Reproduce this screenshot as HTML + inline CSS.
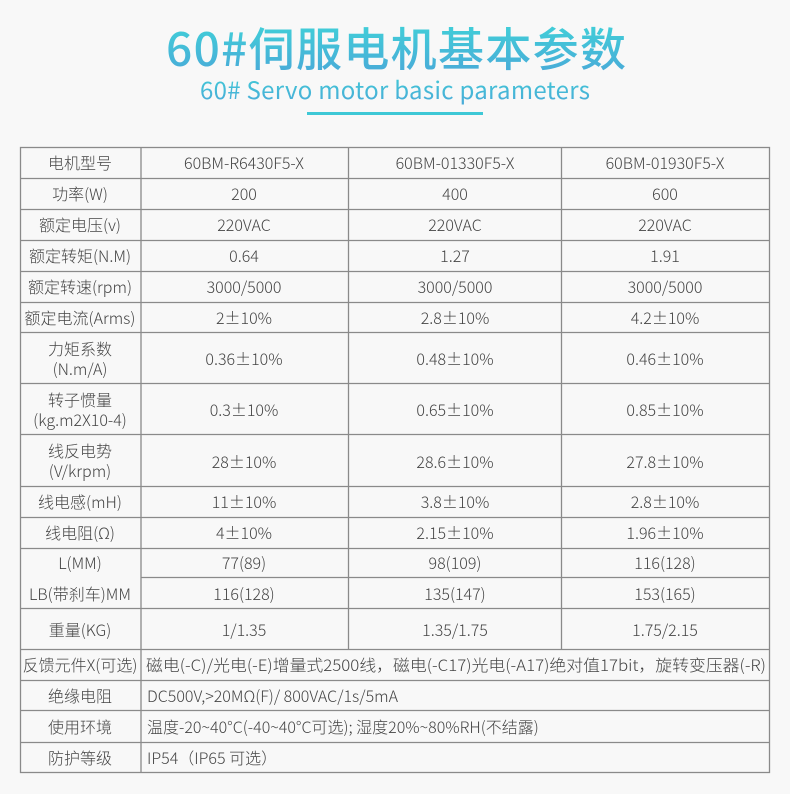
<!DOCTYPE html>
<html><head><meta charset="utf-8"><style>
html,body{margin:0;padding:0;background:#f8f8f8;}
svg{display:block;}
.t{font-family:"Noto Sans CJK SC","Liberation Sans",sans-serif;font-size:16px;fill:#444;font-weight:300;}
</style></head><body>
<svg width="790" height="794" viewBox="0 0 790 794" xmlns="http://www.w3.org/2000/svg">
<defs>
<linearGradient id="g" x1="0" y1="0" x2="0" y2="1">
<stop offset="0" stop-color="#3fd6d8"/><stop offset="1" stop-color="#4aa6d8"/>
</linearGradient>
<linearGradient id="g2" x1="0" y1="0" x2="0" y2="1">
<stop offset="0" stop-color="#40cfd6"/><stop offset="1" stop-color="#4aa8d8"/>
</linearGradient>
</defs>
<rect width="790" height="794" fill="#f8f8f8"/>
<text x="396" y="66" text-anchor="middle" style="font-family:'Noto Sans CJK SC',sans-serif;font-size:46px;font-weight:500" fill="url(#g)" textLength="460">60#伺服电机基本参数</text>
<text x="395" y="99" text-anchor="middle" style="font-family:'Noto Sans CJK SC',sans-serif;font-size:24px" fill="url(#g2)" textLength="390">60# Servo motor basic parameters</text>
<rect x="307" y="112" width="176" height="3" fill="#3ec8d6"/>
<g stroke="#8a8a8a" stroke-width="1.3" fill="none">
<rect x="20.5" y="147.5" width="749" height="625"/>
<line x1="141" y1="147" x2="141" y2="772"/>
<line x1="348.5" y1="147" x2="348.5" y2="649"/>
<line x1="561.5" y1="147" x2="561.5" y2="649"/>
<line x1="20" y1="178.5" x2="770" y2="178.5"/>
<line x1="20" y1="209.5" x2="770" y2="209.5"/>
<line x1="20" y1="240.5" x2="770" y2="240.5"/>
<line x1="20" y1="271.5" x2="770" y2="271.5"/>
<line x1="20" y1="302.5" x2="770" y2="302.5"/>
<line x1="20" y1="332.5" x2="770" y2="332.5"/>
<line x1="20" y1="383.5" x2="770" y2="383.5"/>
<line x1="20" y1="434.5" x2="770" y2="434.5"/>
<line x1="20" y1="486.5" x2="770" y2="486.5"/>
<line x1="20" y1="517.5" x2="770" y2="517.5"/>
<line x1="20" y1="548.5" x2="770" y2="548.5"/>
<line x1="141" y1="577.5" x2="770" y2="577.5"/>
<line x1="20" y1="608.5" x2="770" y2="608.5"/>
<line x1="20" y1="649.5" x2="770" y2="649.5"/>
<line x1="20" y1="680.5" x2="770" y2="680.5"/>
<line x1="20" y1="710.5" x2="770" y2="710.5"/>
<line x1="20" y1="742.5" x2="770" y2="742.5"/>
</g>
<g text-anchor="middle">
<text class="t" x="80" y="169">电机型号</text><text class="t" x="244" y="169">60BM-R6430F5-X</text><text class="t" x="455" y="169">60BM-01330F5-X</text><text class="t" x="665" y="169">60BM-01930F5-X</text>
<text class="t" x="80" y="200">功率(W)</text><text class="t" x="244" y="200">200</text><text class="t" x="455" y="200">400</text><text class="t" x="665" y="200">600</text>
<text class="t" x="80" y="231">额定电压(v)</text><text class="t" x="244" y="231">220VAC</text><text class="t" x="455" y="231">220VAC</text><text class="t" x="665" y="231">220VAC</text>
<text class="t" x="80" y="262">额定转矩(N.M)</text><text class="t" x="244" y="262">0.64</text><text class="t" x="455" y="262">1.27</text><text class="t" x="665" y="262">1.91</text>
<text class="t" x="80" y="293">额定转速(rpm)</text><text class="t" x="244" y="293">3000/5000</text><text class="t" x="455" y="293">3000/5000</text><text class="t" x="665" y="293">3000/5000</text>
<text class="t" x="80" y="324">额定电流(Arms)</text><text class="t" x="244" y="324">2±10%</text><text class="t" x="455" y="324">2.8±10%</text><text class="t" x="665" y="324">4.2±10%</text>
<text class="t" x="80" y="355">力矩系数</text><text class="t" x="80" y="375">(N.m/A)</text><text class="t" x="244" y="365">0.36±10%</text><text class="t" x="455" y="365">0.48±10%</text><text class="t" x="665" y="365">0.46±10%</text>
<text class="t" x="80" y="406">转子惯量</text><text class="t" x="80" y="426">(kg.m2X10-4)</text><text class="t" x="244" y="416">0.3±10%</text><text class="t" x="455" y="416">0.65±10%</text><text class="t" x="665" y="416">0.85±10%</text>
<text class="t" x="80" y="457">线反电势</text><text class="t" x="80" y="477">(V/krpm)</text><text class="t" x="244" y="468">28±10%</text><text class="t" x="455" y="468">28.6±10%</text><text class="t" x="665" y="468">27.8±10%</text>
<text class="t" x="80" y="508">线电感(mH)</text><text class="t" x="244" y="508">11±10%</text><text class="t" x="455" y="508">3.8±10%</text><text class="t" x="665" y="508">2.8±10%</text>
<text class="t" x="80" y="539">线电阻(Ω)</text><text class="t" x="244" y="539">4±10%</text><text class="t" x="455" y="539">2.15±10%</text><text class="t" x="665" y="539">1.96±10%</text>
<text class="t" x="80" y="569">L(MM)</text><text class="t" x="244" y="569">77(89)</text><text class="t" x="455" y="569">98(109)</text><text class="t" x="665" y="569">116(128)</text>
<text class="t" x="80" y="600">LB(带刹车)MM</text><text class="t" x="244" y="600">116(128)</text><text class="t" x="455" y="600">135(147)</text><text class="t" x="665" y="600">153(165)</text>
<text class="t" x="80" y="636">重量(KG)</text><text class="t" x="244" y="636">1/1.35</text><text class="t" x="455" y="636">1.35/1.75</text><text class="t" x="665" y="636">1.75/2.15</text>
<text class="t" x="80" y="671">反馈元件X(可选)</text>
<text class="t" x="80" y="702">绝缘电阻</text>
<text class="t" x="80" y="733">使用环境</text>
<text class="t" x="80" y="764">防护等级</text>
</g>
<g>
<text class="t" x="146" y="671" textLength="620" lengthAdjust="spacingAndGlyphs">磁电(-C)/光电(-E)增量式2500线，磁电(-C17)光电(-A17)绝对值17bit，旋转变压器(-R)</text>
<text class="t" x="147" y="702">DC500V,&gt;20MΩ(F)/ 800VAC/1s/5mA</text>
<text class="t" x="147" y="733">温度-20~40°C(-40~40°C可选); 湿度20%~80%RH(不结露)</text>
<text class="t" x="147" y="764">IP54（IP65 可选）</text>
</g>
</svg>
</body></html>
